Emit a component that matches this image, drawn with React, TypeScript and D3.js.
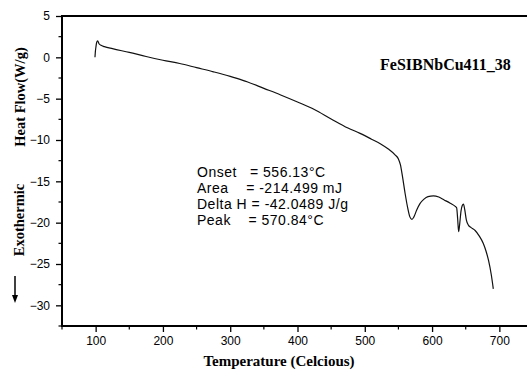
import React, { useEffect, useRef } from 'react';
import * as d3 from 'd3';

// DSC trace
const temps = [99, 99.5, 100.5, 101.5, 103, 105, 108, 113, 125, 150, 175, 200, 225, 250, 275, 300, 310, 325, 350, 375, 400, 425, 450, 475, 493, 510, 523, 535, 545, 550, 553, 556, 560, 564, 567, 570, 573, 577, 582, 588, 594, 602, 610, 618, 627, 634, 636.5, 638, 639.5, 641, 643, 645, 646.6, 648.5, 651, 654, 658, 664, 670, 676, 680, 684, 688, 691];
const heatFlow = [0.0, 0.6, 1.3, 1.8, 2.0, 1.65, 1.45, 1.3, 1.05, 0.6, 0.1, -0.35, -0.75, -1.25, -1.75, -2.3, -2.55, -2.95, -3.75, -4.55, -5.4, -6.3, -7.45, -8.55, -9.2, -9.9, -10.45, -11.1, -11.8, -12.3, -13.0, -14.4, -16.5, -18.3, -19.3, -19.6, -19.3, -18.5, -17.7, -17.15, -16.85, -16.75, -16.9, -17.25, -17.65, -18.0, -18.2, -19.5, -21.1, -20.2, -18.6, -17.9, -17.75, -18.4, -19.7, -20.3, -20.6, -20.95, -21.6, -22.5, -23.4, -24.6, -26.3, -28.0];

const xTicks = [100, 200, 300, 400, 500, 600, 700];
const xMinor = [50, 150, 250, 350, 450, 550, 650, 750];
const yTicks = [5, 0, -5, -10, -15, -20, -25, -30];
const yMinor = [2.5, -2.5, -7.5, -12.5, -17.5, -22.5, -27.5, -32.5];

const notes = [
  'Onset   = 556.13°C',
  'Area    = -214.499 mJ',
  'Delta H = -42.0489 J/g',
  'Peak    = 570.84°C',
];
const sampleName = 'FeSIBNbCu411_38';

export default function App() {
  const svgRef = useRef<SVGSVGElement>(null);

  useEffect(() => {
    const svg = d3.select(svgRef.current);
    svg.selectAll('*').remove();

    const left = 62, right = 533, top = 16, bottom = 326;
    const x = d3.scaleLinear().domain([50, 750]).range([left, right]);
    const y = d3.scaleLinear().domain([-32.5, 5]).range([bottom, top]);

    const sans = '"Liberation Sans", Arial, sans-serif';
    const serif = '"Liberation Serif", "Times New Roman", serif';

    // bottom axis
    const gx = svg.append('g').attr('transform', `translate(0,${bottom})`);
    gx.call(d3.axisBottom(x).tickValues(xTicks).tickSize(6).tickPadding(4).tickFormat(d3.format('d')));
    gx.selectAll('.tick line').attr('stroke-width', 1.3);
    gx.selectAll('.tick text').attr('font-family', sans).attr('font-size', 12).attr('fill', '#000');
    gx.select('.domain').remove();
    gx.selectAll('.minor').data(xMinor).enter().append('line')
      .attr('x1', d => x(d)).attr('x2', d => x(d)).attr('y1', 0).attr('y2', 3.5)
      .attr('stroke', '#000').attr('stroke-width', 1.2);

    // left axis
    const gy = svg.append('g').attr('transform', `translate(${left},0)`);
    gy.call(d3.axisLeft(y).tickValues(yTicks).tickSize(6).tickPadding(6).tickFormat(d3.format('d')));
    gy.selectAll('.tick line').attr('stroke-width', 1.3);
    gy.selectAll('.tick text').attr('font-family', sans).attr('font-size', 12).attr('fill', '#000');
    gy.select('.domain').remove();
    gy.selectAll('.minor').data(yMinor).enter().append('line')
      .attr('x1', 0).attr('x2', -3.5).attr('y1', d => y(d)).attr('y2', d => y(d))
      .attr('stroke', '#000').attr('stroke-width', 1.2);

    // frame
    svg.append('path')
      .attr('d', `M${right},${top}H${left}V${bottom}H${right}`)
      .attr('fill', 'none').attr('stroke', '#000').attr('stroke-width', 2);

    // curve
    const line = d3.line<number>()
      .x((_, i) => x(temps[i]))
      .y(d => y(d))
      .curve(d3.curveMonotoneX);
    svg.append('path')
      .datum(heatFlow)
      .attr('fill', 'none')
      .attr('stroke', '#111')
      .attr('stroke-width', 1.2)
      .attr('d', line);

    // annotation block
    svg.append('g').selectAll('text').data(notes).enter().append('text')
      .attr('x', 197).attr('y', (_, i) => 177 + i * 16)
      .attr('font-family', sans).attr('font-size', 14).attr('letter-spacing', 0.5)
      .style('white-space', 'pre')
      .text(d => d);

    svg.append('text')
      .attr('x', 380).attr('y', 70)
      .attr('font-family', serif).attr('font-weight', 'bold').attr('font-size', 16)
      .text(sampleName);

    // axis titles
    svg.append('text')
      .attr('x', 279).attr('y', 366).attr('text-anchor', 'middle')
      .attr('font-family', serif).attr('font-weight', 'bold').attr('font-size', 15)
      .text('Temperature (Celcious)');

    svg.append('text')
      .attr('transform', 'translate(25,97) rotate(-90)').attr('text-anchor', 'middle')
      .attr('font-family', serif).attr('font-weight', 'bold').attr('font-size', 14.5)
      .text('Heat Flow(W/g)');

    svg.append('text')
      .attr('transform', 'translate(24,220) rotate(-90)').attr('text-anchor', 'middle')
      .attr('font-family', serif).attr('font-weight', 'bold').attr('font-size', 14.5)
      .text('Exothermic');

    // exothermic arrow
    svg.append('line')
      .attr('x1', 15).attr('x2', 15).attr('y1', 276).attr('y2', 296)
      .attr('stroke', '#000').attr('stroke-width', 1.5);
    svg.append('path')
      .attr('d', 'M12,295L18,295L15,303Z').attr('fill', '#000');
  }, []);

  return (
    <div style={{ position: 'absolute', left: 0, top: 0 }}>
      <svg ref={svgRef} width={527} height={379} style={{ display: 'block', background: '#fff' }} />
    </div>
  );
}
